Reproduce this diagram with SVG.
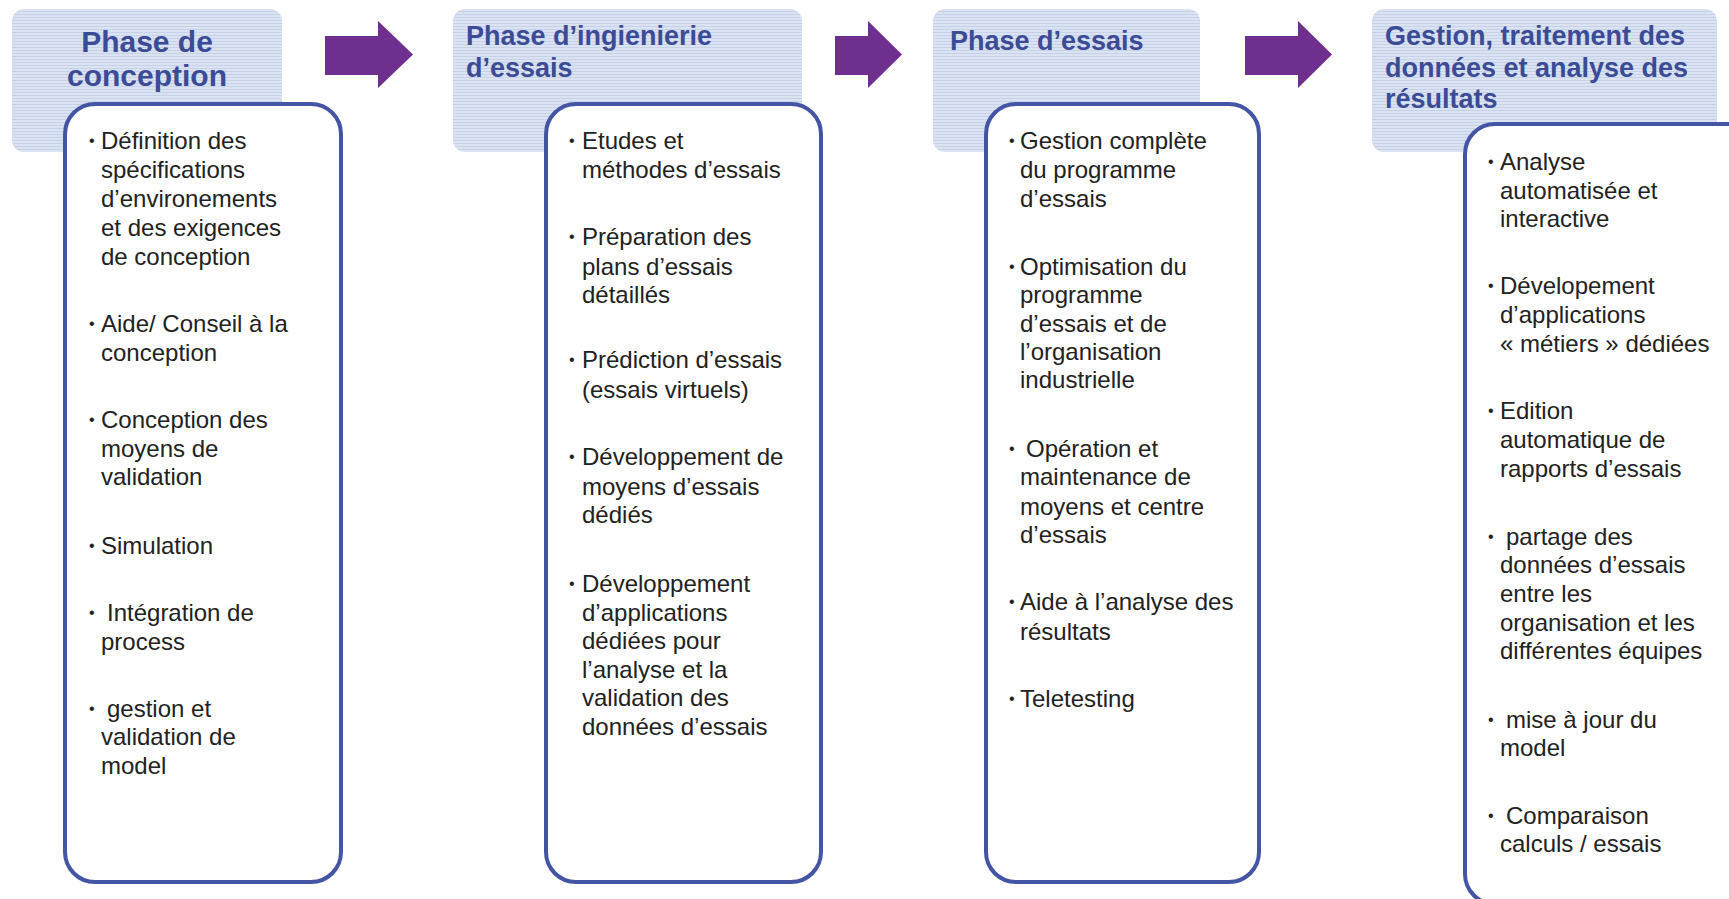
<svg xmlns="http://www.w3.org/2000/svg" width="1729" height="899" viewBox="0 0 1729 899">
<defs>
<pattern id="stripes" patternUnits="userSpaceOnUse" width="8" height="3">
<rect width="8" height="3" fill="#dbe3f2"/>
<rect y="2" width="8" height="1" fill="#c6d2e8"/>
</pattern>
<style>
.hdr{fill:url(#stripes);}
.box{fill:#fefefe;stroke:#4555a5;stroke-width:4;}
.ht{font-family:"Liberation Sans",Arial,sans-serif;font-weight:bold;font-size:27px;fill:#3b4b95;}
.ht1{font-size:30px;}
.bt{font-family:"Liberation Sans",Arial,sans-serif;font-size:24px;fill:#222222;}
.bl{font-family:"Liberation Sans",Arial,sans-serif;font-size:16px;fill:#222222;}
.arrow{fill:#6e2f8f;}
</style>
</defs>
<rect width="1729" height="899" fill="#ffffff"/>

<g id="connectors">
<polygon class="arrow" points="325,36 378,36 378,21 413,54.5 378,88 378,75 325,75"/>
<polygon class="arrow" points="835,36 868,36 868,21 902,54.5 868,88 868,75 835,75"/>
<polygon class="arrow" points="1245,36 1298,36 1298,21 1332,54.5 1298,88 1298,75 1245,75"/>
</g>

<g id="phase-conception">
<rect class="hdr" x="12" y="9" width="270" height="143" rx="12"/>
<text class="ht ht1" x="147" y="52" text-anchor="middle">Phase de</text>
<text class="ht ht1" x="147" y="86" text-anchor="middle">conception</text>
<rect class="box" x="65" y="104" width="276" height="778" rx="30"/>
<text class="bl" x="89" y="146">•</text>
<text class="bt" x="101" y="149">Définition des</text>
<text class="bt" x="101" y="178">spécifications</text>
<text class="bt" x="101" y="207">d’environements</text>
<text class="bt" x="101" y="236">et des exigences</text>
<text class="bt" x="101" y="265">de conception</text>
<text class="bl" x="89" y="329">•</text>
<text class="bt" x="101" y="332">Aide/ Conseil à la</text>
<text class="bt" x="101" y="361">conception</text>
<text class="bl" x="89" y="425">•</text>
<text class="bt" x="101" y="428">Conception des</text>
<text class="bt" x="101" y="457">moyens de</text>
<text class="bt" x="101" y="485">validation</text>
<text class="bl" x="89" y="551">•</text>
<text class="bt" x="101" y="554">Simulation</text>
<text class="bl" x="89" y="618">•</text>
<text class="bt" x="107" y="621">Intégration de</text>
<text class="bt" x="101" y="650">process</text>
<text class="bl" x="89" y="714">•</text>
<text class="bt" x="107" y="717">gestion et</text>
<text class="bt" x="101" y="745">validation de</text>
<text class="bt" x="101" y="774">model</text>
</g>

<g id="phase-ingenierie">
<rect class="hdr" x="453" y="9" width="349" height="143" rx="12"/>
<text class="ht" x="466" y="45">Phase d’ingienierie</text>
<text class="ht" x="466" y="77">d’essais</text>
<rect class="box" x="546" y="104" width="275" height="778" rx="30"/>
<text class="bl" x="569" y="146">•</text>
<text class="bt" x="582" y="149">Etudes et</text>
<text class="bt" x="582" y="178">méthodes d’essais</text>
<text class="bl" x="569" y="242">•</text>
<text class="bt" x="582" y="245">Préparation des</text>
<text class="bt" x="582" y="275">plans d’essais</text>
<text class="bt" x="582" y="303">détaillés</text>
<text class="bl" x="569" y="365">•</text>
<text class="bt" x="582" y="368">Prédiction d’essais</text>
<text class="bt" x="582" y="398">(essais virtuels)</text>
<text class="bl" x="569" y="462">•</text>
<text class="bt" x="582" y="465">Développement de</text>
<text class="bt" x="582" y="495">moyens d’essais</text>
<text class="bt" x="582" y="523">dédiés</text>
<text class="bl" x="569" y="589">•</text>
<text class="bt" x="582" y="592">Développement</text>
<text class="bt" x="582" y="621">d’applications</text>
<text class="bt" x="582" y="649">dédiées pour</text>
<text class="bt" x="582" y="678">l’analyse et la</text>
<text class="bt" x="582" y="706">validation des</text>
<text class="bt" x="582" y="735">données d’essais</text>
</g>

<g id="phase-essais">
<rect class="hdr" x="933" y="9" width="267" height="143" rx="12"/>
<text class="ht" x="950" y="50">Phase d’essais</text>
<rect class="box" x="986" y="104" width="273" height="778" rx="30"/>
<text class="bl" x="1009" y="146">•</text>
<text class="bt" x="1020" y="149">Gestion complète</text>
<text class="bt" x="1020" y="178">du programme</text>
<text class="bt" x="1020" y="207">d’essais</text>
<text class="bl" x="1009" y="272">•</text>
<text class="bt" x="1020" y="275">Optimisation du</text>
<text class="bt" x="1020" y="303">programme</text>
<text class="bt" x="1020" y="332">d’essais et de</text>
<text class="bt" x="1020" y="360">l’organisation</text>
<text class="bt" x="1020" y="388">industrielle</text>
<text class="bl" x="1009" y="454">•</text>
<text class="bt" x="1026" y="457">Opération et</text>
<text class="bt" x="1020" y="485">maintenance de</text>
<text class="bt" x="1020" y="515">moyens et centre</text>
<text class="bt" x="1020" y="543">d’essais</text>
<text class="bl" x="1009" y="607">•</text>
<text class="bt" x="1020" y="610">Aide à l’analyse des</text>
<text class="bt" x="1020" y="640">résultats</text>
<text class="bl" x="1009" y="704">•</text>
<text class="bt" x="1020" y="707">Teletesting</text>
</g>

<g id="phase-analyse">
<rect class="hdr" x="1372" y="9" width="345" height="143" rx="12"/>
<text class="ht" x="1385" y="45">Gestion, traitement des</text>
<text class="ht" x="1385" y="77">données et analyse des</text>
<text class="ht" x="1385" y="108">résultats</text>
<rect class="box" x="1465" y="124" width="300" height="780" rx="30"/>
<text class="bl" x="1488" y="167">•</text>
<text class="bt" x="1500" y="170">Analyse</text>
<text class="bt" x="1500" y="199">automatisée et</text>
<text class="bt" x="1500" y="227">interactive</text>
<text class="bl" x="1488" y="291">•</text>
<text class="bt" x="1500" y="294">Dévelopement</text>
<text class="bt" x="1500" y="323">d’applications</text>
<text class="bt" x="1500" y="352">« métiers » dédiées</text>
<text class="bl" x="1488" y="416">•</text>
<text class="bt" x="1500" y="419">Edition</text>
<text class="bt" x="1500" y="448">automatique de</text>
<text class="bt" x="1500" y="477">rapports d’essais</text>
<text class="bl" x="1488" y="542">•</text>
<text class="bt" x="1506" y="545">partage des</text>
<text class="bt" x="1500" y="573">données d’essais</text>
<text class="bt" x="1500" y="602">entre les</text>
<text class="bt" x="1500" y="631">organisation et les</text>
<text class="bt" x="1500" y="659">différentes équipes</text>
<text class="bl" x="1488" y="725">•</text>
<text class="bt" x="1506" y="728">mise à jour du</text>
<text class="bt" x="1500" y="756">model</text>
<text class="bl" x="1488" y="821">•</text>
<text class="bt" x="1506" y="824">Comparaison</text>
<text class="bt" x="1500" y="852">calculs / essais</text>
</g>
</svg>
